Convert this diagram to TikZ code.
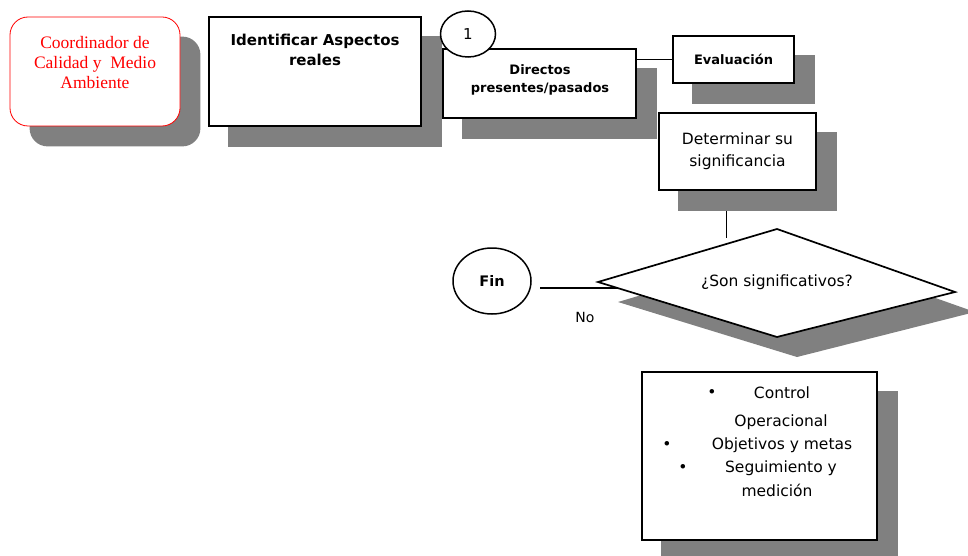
\documentclass[tikz,border=0pt]{standalone}
\usepackage{fontspec}
\setmainfont{DejaVu Sans}
\newfontfamily\coordfont{Liberation Serif}
\usetikzlibrary{calc,shapes.geometric}
\definecolor{shadowgray}{RGB}{128,128,128}
\pgfdeclarelayer{links}
\pgfdeclarelayer{shadows}
\pgfsetlayers{links,shadows,main}

\begin{document}
\begin{tikzpicture}[x=1pt,y=-1pt,
  box/.style={draw=black, line width=1.7pt, fill=white, inner sep=0pt, align=center},
  roundbox/.style={draw=red, line width=0.8pt, fill=white, rounded corners=18pt, inner sep=0pt},
  oval/.style={ellipse, draw=black, line width=1.5pt, fill=white, inner sep=0pt},
  link/.style={draw=black, line width=1.5pt},
  drop/.style={fill=shadowgray, draw=none},
  lbl/.style={inner sep=0pt, align=center},
  regtext/.style={font=\fontsize{15.5}{22}\selectfont},
  boldtext/.style={font=\fontsize{15}{20}\selectfont\bfseries},
  smallbold/.style={font=\fontsize{13}{18}\selectfont\bfseries},
]
\useasboundingbox (0,0) rectangle (968,556);

% ---- boxes ----
\node[roundbox, minimum width=170, minimum height=109] (coord) at (95,71.5) {};
\node[lbl, text=red, font=\coordfont\fontsize{17.5}{20}\selectfont] (coordtxt) at (95,63)
  {Coordinador de\\Calidad y\ \ Medio\\Ambiente};

\node[box, minimum width=212, minimum height=109] (ident) at (315,71.5) {};
\node[lbl, boldtext] (identtxt) at (315,50) {Identificar Aspectos\\reales};

\node[box, minimum width=193, minimum height=69] (dir) at (539.5,83.5) {};
\node[lbl, smallbold] (dirtxt) at (540,80) {Directos\\presentes/pasados};

\node[oval, minimum width=55, minimum height=46, font=\fontsize{15}{18}\selectfont] (one) at (468,34) {1};

\node[box, minimum width=121, minimum height=47, smallbold] (eval) at (733.5,59.5) {Evaluación};

\node[box, minimum width=157, minimum height=77, regtext] (det) at (737.5,151.5)
  {Determinar su\\significancia};

% ---- decision ----
\coordinate (dtop) at (777,229);
\coordinate (dright) at (955,292);
\coordinate (dbot) at (777,337);
\coordinate (dleft) at (598,282);
\filldraw[fill=white, draw=black, line width=1.7pt] (dtop) -- (dright) -- (dbot) -- (dleft) -- cycle;
\node[lbl, regtext] (dq) at (777,282) {¿Son significativos?};

\node[oval, minimum width=78, minimum height=66, font=\fontsize{14.5}{18}\selectfont\bfseries] (fin) at (492,281) {Fin};
\node[lbl, font=\fontsize{14}{18}\selectfont] (no) at (585,317) {No};

% ---- actions ----
\node[box, minimum width=235, minimum height=168] (act) at (759.5,456) {};
\node[lbl, regtext] (b1) at (712,393) {•};
\node[lbl, regtext] (t1) at (782,393) {Control};
\node[lbl, regtext] (t1b) at (781,422) {Operacional};
\node[lbl, regtext] (b2) at (667,445) {•};
\node[lbl, regtext] (t2) at (782,445) {Objetivos y metas};
\node[lbl, regtext] (b3) at (683,468) {•};
\node[lbl, regtext] (t3) at (781,468) {Seguimiento y};
\node[lbl, regtext] (t3b) at (777,490) {medición};

% ---- shadows ----
\begin{pgfonlayer}{shadows}
  \fill[drop, rounded corners=18pt] ($(coord.north west)+(20,20)$) rectangle ($(coord.south east)+(20,20)$);
  \foreach \n in {ident,dir,eval,det,act}
    \fill[drop] ($(\n.north west)+(20,20)$) rectangle ($(\n.south east)+(20,20)$);
  \fill[drop] ($(dtop)+(20,20)$) -- ($(dright)+(20,20)$) -- ($(dbot)+(20,20)$) -- ($(dleft)+(20,20)$) -- cycle;
\end{pgfonlayer}

% ---- connectors ----
\begin{pgfonlayer}{links}
  \draw[link] (ident.east |- eval.west) -- (dir.west |- eval.west);
  \draw[link] (dir.east |- eval.west) -- (eval.west);
  \draw[link] ($(eval.south)+(-6,0)$) -- ($(eval.south)+(-6,0)$ |- det.north);
  \coordinate (detend) at ($(det.south)+(-11,47)$);
  \draw[link] ($(det.south)+(-11,0)$) -- (detend);
  \coordinate (finend) at (540,288);
  \draw[link] (finend) -- (finend -| dq.center);
\end{pgfonlayer}
\end{tikzpicture}
\end{document}
